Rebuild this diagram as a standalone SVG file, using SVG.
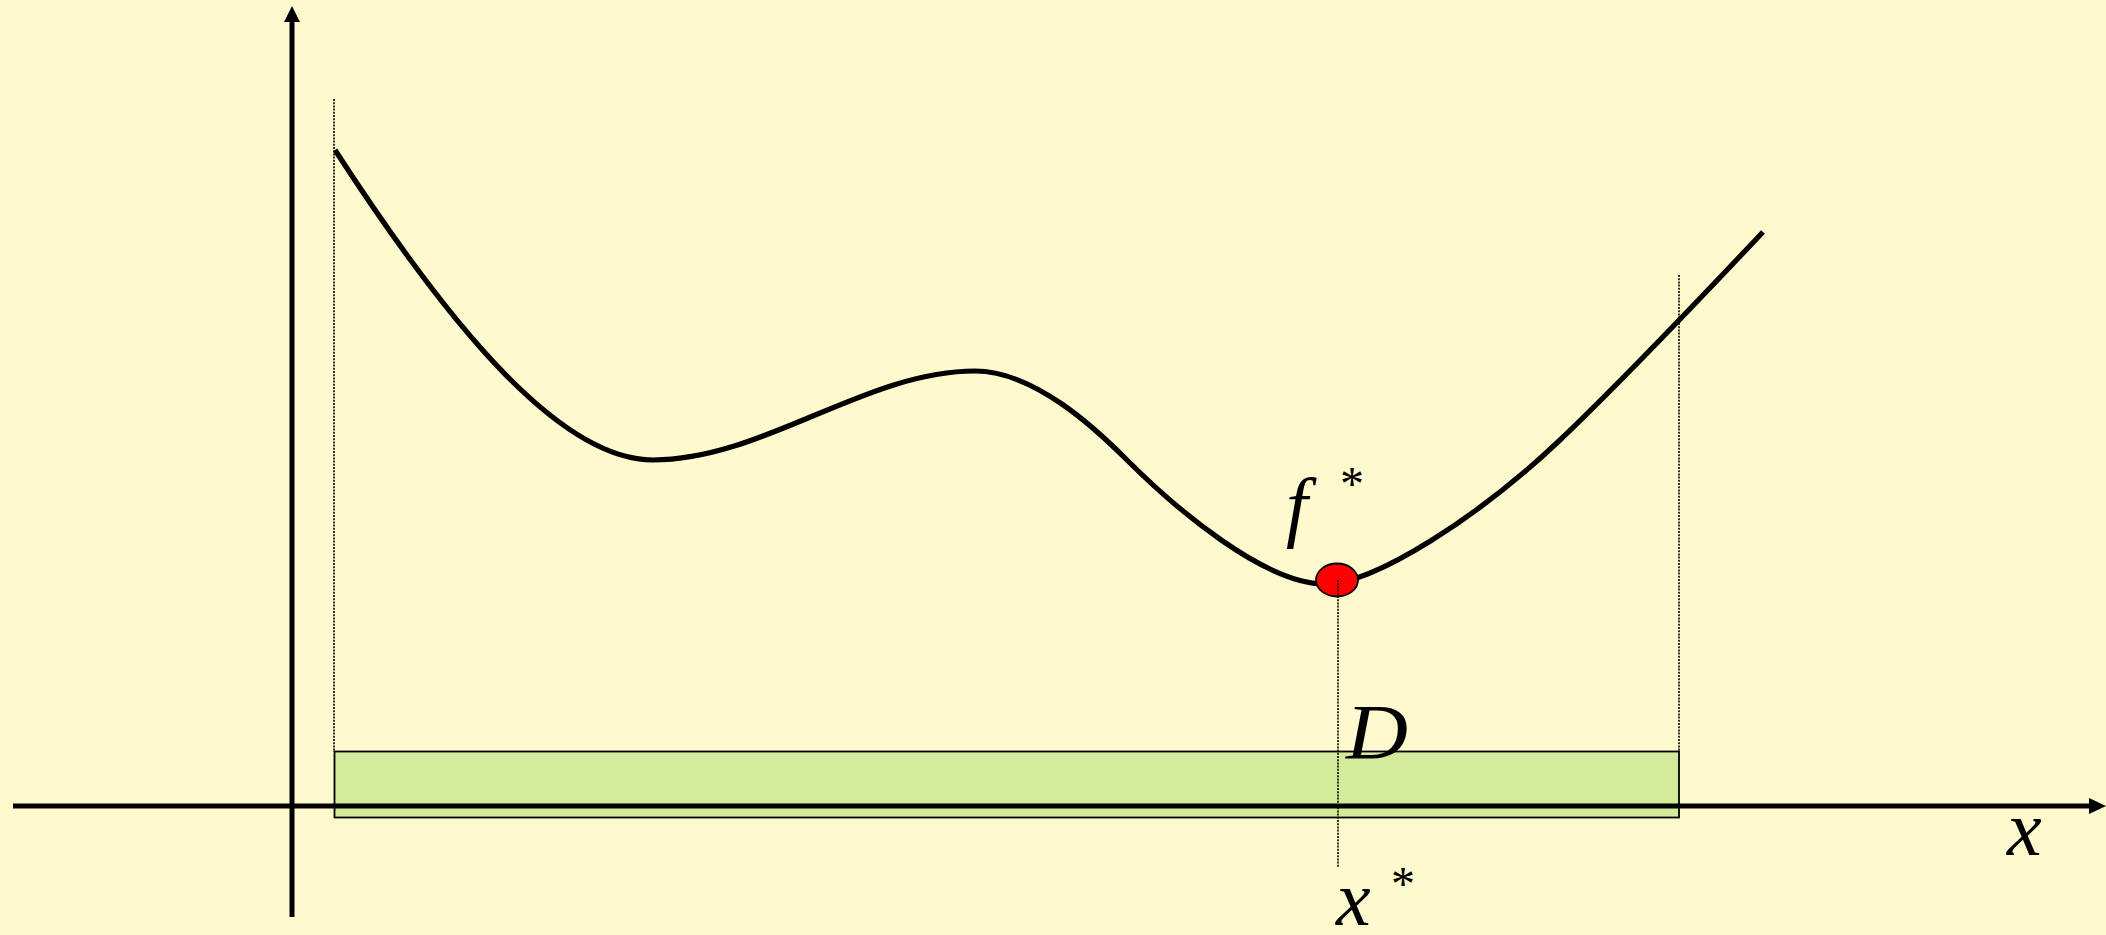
<svg xmlns="http://www.w3.org/2000/svg" width="2106" height="935" viewBox="0 0 2106 935">
<style>
.dash{stroke:#000;stroke-width:1.6;stroke-dasharray:2,1.2;fill:none}
.axis{stroke:#000;stroke-width:5;fill:none}
.math{font-family:"Liberation Serif","Times New Roman",serif;font-style:italic;font-size:78px;fill:#000}
.star{font-family:"Liberation Serif","Times New Roman",serif;font-size:48px;fill:#000}
</style>
<rect width="2106" height="935" fill="#FFF9CE"/>
<g id="domain">
<rect x="334.5" y="751.5" width="1344.5" height="66" fill="#D3EB9A" stroke="#000" stroke-width="1.8"/>
</g>
<g id="guides">
<line class="dash" x1="334" y1="99" x2="334" y2="752"/>
<line class="dash" x1="1679" y1="275" x2="1679" y2="752"/>
</g>
<g id="axes">
<line class="axis" x1="13" y1="806" x2="2092" y2="806"/>
<polygon points="2106,806 2089,798 2089,814" fill="#000"/>
<line class="axis" x1="292" y1="917" x2="292" y2="20"/>
<polygon points="292,6 284,22 300,22" fill="#000"/>
</g>
<g id="curve">
<path d="M335,150 C455,335 563,460 653,460 C763,460 865,371 975,371 C1035,371 1097,430 1127,460 C1177,510 1265,584 1325,584 C1375,584 1480,516 1560,440 C1620,383 1703,295.6 1763,232" fill="none" stroke="#000" stroke-width="5.2"/>
</g>
<g id="minimum">
<ellipse cx="1337" cy="580" rx="21" ry="16.5" fill="#FF0000" stroke="#000" stroke-width="1.8"/>
<line class="dash" x1="1338" y1="580" x2="1338" y2="868"/>
</g>
<g id="labels">
<text class="math" x="1286" y="532">f</text>
<text class="star" x="1340" y="500">*</text>
<text class="math" x="1346" y="758" textLength="62" lengthAdjust="spacingAndGlyphs">D</text>
<text class="math" x="1336" y="925">x</text>
<text class="star" x="1391" y="900">*</text>
<text class="math" x="2007" y="855">x</text>
</g>
</svg>
